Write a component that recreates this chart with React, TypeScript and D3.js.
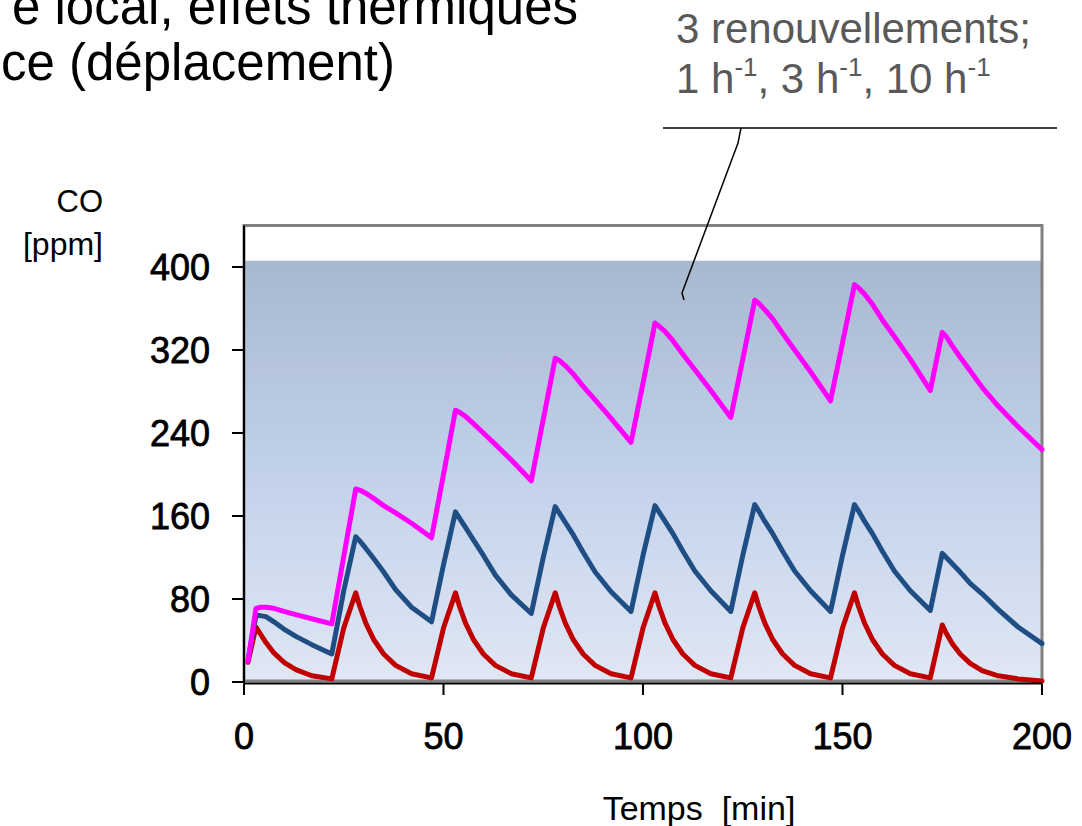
import React from 'react';
import * as d3 from 'd3';

// time grid [min]
const times = [
  1, 3, 4, 5.5, 7.5, 10, 13, 17, 22,
  25, 28, 29, 30.5, 32.5, 35, 38, 42, 47,
  50, 53, 54, 55.5, 57.5, 60, 63, 67, 72,
  75, 78, 79, 80.5, 82.5, 85, 88, 92, 97,
  100, 103, 104, 105.5, 107.5, 110, 113, 117, 122,
  125, 128, 129, 130.5, 132.5, 135, 138, 142, 147,
  150, 153, 154, 155.5, 157.5, 160, 163, 167, 172,
  175, 176, 177.5, 179.5, 182, 185, 189, 194, 200,
];

// CO [ppm], 10 h-1 (red)
const co10 = [
  19, 53, 47, 38, 28, 19, 12, 6, 3,
  52, 86, 73, 57, 41, 27, 16, 8, 4,
  52, 86, 73, 57, 41, 27, 16, 8, 4,
  52, 86, 73, 57, 41, 27, 16, 8, 4,
  52, 86, 73, 57, 41, 27, 16, 8, 4,
  52, 86, 73, 57, 41, 27, 16, 8, 4,
  52, 86, 73, 57, 41, 27, 16, 8, 4,
  55, 47, 37, 27, 18, 11, 6, 3, 1,
];

// CO [ppm], 3 h-1 (dark blue)
const co3 = [
  21, 64, 64, 63, 58, 51, 44, 36, 27,
  88, 140, 136, 129, 119, 106, 89, 72, 58,
  113, 164, 158, 149, 137, 122, 103, 84, 66,
  120, 169, 163, 154, 142, 125, 106, 87, 68,
  122, 170, 164, 155, 143, 126, 107, 88, 68,
  122, 171, 165, 155, 143, 126, 107, 88, 68,
  122, 171, 165, 155, 143, 126, 107, 88, 69,
  124, 120, 114, 106, 95, 85, 70, 53, 37,
];

// CO [ppm], 1 h-1 (magenta)
const co1 = [
  20, 71, 72, 72, 71, 68, 65, 61, 56,
  121, 186, 185, 182, 177, 170, 163, 153, 139,
  200, 262, 260, 256, 249, 240, 229, 214, 194,
  253, 312, 310, 305, 297, 285, 272, 254, 231,
  288, 346, 343, 338, 329, 316, 301, 281, 255,
  311, 368, 365, 359, 350, 336, 320, 299, 271,
  327, 383, 380, 374, 364, 349, 333, 311, 281,
  337, 333, 324, 313, 300, 284, 266, 246, 224,
];

const yTicks = [0, 80, 160, 240, 320, 400];
const xTicks = [0, 50, 100, 150, 200];
const fillTop = 406;
const yMax = 440;

const FONT = '"Liberation Sans", Arial, Helvetica, sans-serif';

export default function App() {
  const W = 1082;
  const H = 826;
  const x = d3.scaleLinear().domain([0, 200]).range([244, 1042]);
  const y = d3.scaleLinear().domain([0, yMax]).range([682, 225.5]);

  const mkLine = (vals: number[]) =>
    d3
      .line<number>()
      .x((_, i) => x(times[i]))
      .y((d) => y(d))(vals) as string;

  const series = [
    { vals: co10, color: '#c00000' },
    { vals: co3, color: '#1f4e85' },
    { vals: co1, color: '#ff00ff' },
  ];

  return (
    <svg
      width={W}
      height={H}
      style={{ position: 'absolute', left: 0, top: 0, background: '#fff' }}
      fontFamily={FONT}
    >
      <defs>
        <linearGradient id="bg" x1="0" y1="0" x2="0" y2="1">
          <stop offset="0%" stopColor="#a8b8cf" />
          <stop offset="50%" stopColor="#c2d1ea" />
          <stop offset="100%" stopColor="#e0e7f4" />
        </linearGradient>
      </defs>

      {/* title fragments */}
      <text x={578} y={24} fontSize={51} textAnchor="end" fill="#000">
        e local, effets thermiques
      </text>
      <text x={395} y={80} fontSize={51} textAnchor="end" fill="#000">
        ce (déplacement)
      </text>

      {/* annotation */}
      <text x={676} y={43} fontSize={42} fill="#595959">
        3 renouvellements;
      </text>
      <text x={676} y={93} fontSize={42} fill="#595959">
        1 h
        <tspan dy={-17} fontSize={26}>-1</tspan>
        <tspan dy={17}>, 3 h</tspan>
        <tspan dy={-17} fontSize={26}>-1</tspan>
        <tspan dy={17}>, 10 h</tspan>
        <tspan dy={-17} fontSize={26}>-1</tspan>
      </text>
      <line x1={663} x2={1057} y1={128} y2={128} stroke="#000" strokeWidth={1.5} />

      {/* plot area */}
      <rect x={x(0)} y={y(yMax)} width={x(200) - x(0)} height={y(0) - y(yMax)} fill="#fff" />
      <rect
        x={x(0)}
        y={y(fillTop)}
        width={x(200) - x(0)}
        height={y(0) - y(fillTop)}
        fill="url(#bg)"
      />
      <rect
        x={x(0)}
        y={y(yMax)}
        width={x(200) - x(0)}
        height={y(0) - y(yMax) - 1}
        fill="none"
        stroke="#808080"
        strokeWidth={3}
      />

      {/* callout leader */}
      <polyline
        points="741,128 738,143 682,293 684,300"
        fill="none"
        stroke="#000"
        strokeWidth={1.5}
      />

      {/* series */}
      {series.map((s, i) => (
        <path
          key={i}
          d={mkLine(s.vals)}
          fill="none"
          stroke={s.color}
          strokeWidth={5}
          strokeLinejoin="round"
          strokeLinecap="round"
        />
      ))}

      {/* axes */}
      <line x1={x(0)} x2={x(0)} y1={y(yMax)} y2={y(0) + 1.5} stroke="#000" strokeWidth={2} />
      <line x1={x(0)} x2={x(200)} y1={y(0) + 1.5} y2={y(0) + 1.5} stroke="#000" strokeWidth={2} />
      {yTicks.map((t) => (
        <g key={'y' + t}>
          <line x1={x(0) - 12} x2={x(0)} y1={y(t)} y2={y(t)} stroke="#000" strokeWidth={2} />
          <text
            x={210}
            y={y(t) + 13}
            fontSize={36}
            textAnchor="end"
            fill="#000"
            stroke="#000"
            strokeWidth={0.8}
          >
            {t}
          </text>
        </g>
      ))}
      {xTicks.map((t) => (
        <g key={'x' + t}>
          <line x1={x(t)} x2={x(t)} y1={y(0) + 1.5} y2={y(0) + 13} stroke="#000" strokeWidth={2} />
          <text
            x={x(t)}
            y={749}
            fontSize={36}
            textAnchor="middle"
            fill="#000"
            stroke="#000"
            strokeWidth={0.8}
          >
            {t}
          </text>
        </g>
      ))}

      {/* axis titles */}
      <text x={103} y={212} fontSize={31} textAnchor="end" fill="#000">
        CO
      </text>
      <text x={103} y={255} fontSize={32} textAnchor="end" fill="#000">
        [ppm]
      </text>
      <text x={699} y={820} fontSize={34} textAnchor="middle" fill="#000">
        {'Temps\u00a0 [min]'}
      </text>
    </svg>
  );
}
